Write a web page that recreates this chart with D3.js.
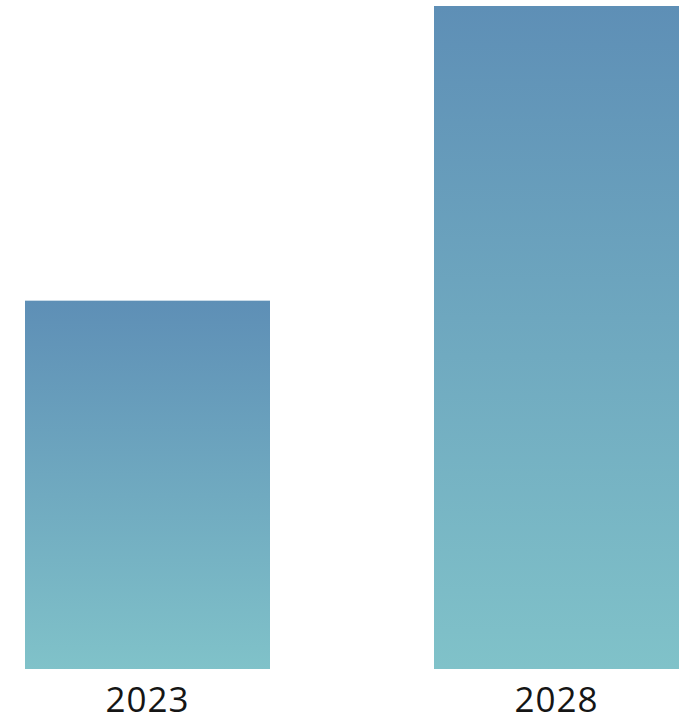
<!DOCTYPE html>
<html>
<head>
<meta charset="utf-8">
<script src="https://cdn.jsdelivr.net/npm/d3@7"></script>
<style>
html,body{margin:0;padding:0;background:#fff;}
svg{display:block;}
</style>
</head>
<body>
<svg id="chart" width="690" height="723"></svg>
<script>
const categories = ["2023", "2028"];
const values = [100, 180];

const svg = d3.select("#chart");
const x = d3.scaleBand().domain(categories).range([25, 679]).paddingInner(0.401).paddingOuter(0);
const y = d3.scaleLinear().domain([0, 180]).range([669, 6]);

const defs = svg.append("defs");
const grad = defs.append("linearGradient").attr("id", "barGrad")
  .attr("x1", 0).attr("y1", 0).attr("x2", 0).attr("y2", 1);
grad.append("stop").attr("offset", "0%").attr("stop-color", "#5e8fb6");
grad.append("stop").attr("offset", "100%").attr("stop-color", "#80c2c9");

svg.selectAll("rect.bar").data(categories).join("rect")
  .attr("class", "bar")
  .attr("x", d => x(d))
  .attr("width", x.bandwidth())
  .attr("y", (d, i) => y(values[i]))
  .attr("height", (d, i) => y(0) - y(values[i]))
  .attr("fill", "url(#barGrad)");

svg.selectAll("text.lbl").data(categories).join("text")
  .attr("class", "lbl")
  .attr("x", d => x(d) + x.bandwidth() / 2)
  .attr("y", 712)
  .attr("text-anchor", "middle")
  .attr("font-family", "'Open Sans', 'Noto Sans', sans-serif")
  .attr("font-size", 35)
  .attr("letter-spacing", 1)
  .attr("fill", "#151515")
  .text(d => d);
</script>
</body>
</html>
